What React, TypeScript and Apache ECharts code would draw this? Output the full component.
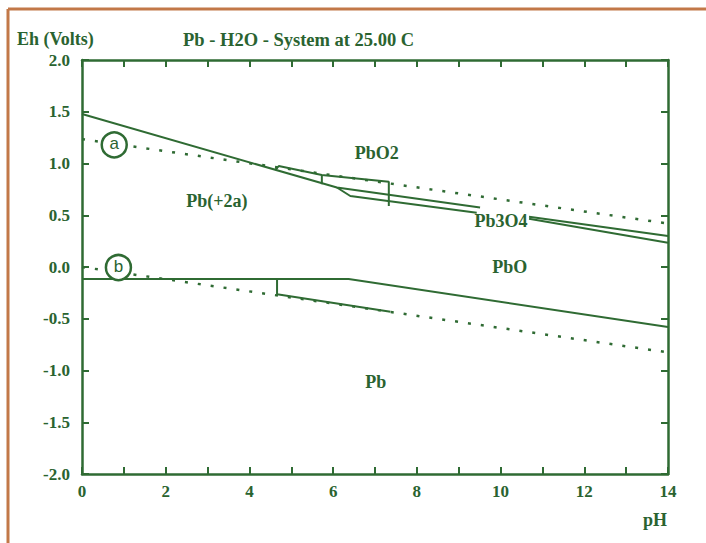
import React, { useEffect, useRef } from "react";
import * as echarts from "echarts";

const GREEN = "#2f6b33";
const TEXT = "#2a6330";
const FONT = "'Liberation Serif', 'Times New Roman', serif";

// Axis ticks
const phTicks = [0, 14];
const ehTicks = [-2, 2];

// Boundary lines [pH, Eh]
const pbo2Upper = [[0, 1.478], [6.09, 0.768], [9.51, 0.574]];
const pb3o4Lower = [[6.09, 0.768], [6.41, 0.686], [9.43, 0.525]];
const rightUpper = [[10.68, 0.486], [14, 0.30]];
const rightLower = [[10.68, 0.467], [14, 0.235]];
const boxTop = [[4.62, 0.94], [4.70, 0.975], [5.73, 0.889], [7.33, 0.824], [7.33, 0.59]];
const boxMid = [[5.73, 0.889], [5.73, 0.80]];
const pbLine = [[0, -0.115], [6.37, -0.115], [14, -0.58]];
const pbStep = [[4.66, -0.115], [4.66, -0.264], [7.37, -0.432]];
// Water stability lines (dotted)
const waterA = [[0, 1.235], [14, 0.42]];
const waterB = [[0, 0.0], [14, -0.825]];
// Circle markers
const circles = [[0.77, 1.18, "a"], [0.87, -0.005, "b"]];
// Region labels
const regions = [
  [7.04, 1.104, "PbO2"],
  [3.22, 0.638, "Pb(+2a)"],
  [10.01, 0.444, "Pb3O4"],
  [10.22, 0.0, "PbO"],
  [7.02, -1.11, "Pb"],
];

function solid(data: number[][]) {
  return {
    type: "line",
    data,
    showSymbol: false,
    symbol: "none",
    lineStyle: { color: GREEN, width: 2 },
    z: 3,
  };
}

function dotted(data: number[][]) {
  return {
    type: "line",
    data,
    showSymbol: false,
    symbol: "none",
    lineStyle: { color: GREEN, width: 2.5, type: [3, 10], cap: "butt" },
    z: 2,
  };
}

export default function App() {
  const ref = useRef<HTMLDivElement>(null);
  useEffect(() => {
    if (!ref.current) return;
    const chart = echarts.init(ref.current, undefined, { renderer: "svg" });
    const axisCommon = {
      axisLine: { show: true, onZero: false, lineStyle: { color: GREEN, width: 2.5 } },
      axisTick: { show: true, inside: true, length: 7, lineStyle: { color: GREEN, width: 2 } },
      splitLine: { show: false },
    };
    chart.setOption({
      animation: false,
      backgroundColor: "#ffffff",
      grid: { left: 82, top: 60, width: 586, height: 414, containLabel: false },
      xAxis: [
        {
          type: "value",
          min: phTicks[0],
          max: phTicks[1],
          interval: 1,
          position: "bottom",
          ...axisCommon,
          axisLabel: {
            margin: 9,
            color: TEXT,
            fontFamily: FONT,
            fontWeight: "bold",
            fontSize: 17,
            formatter: (v: number) => (v % 2 === 0 ? String(v) : ""),
          },
        },
        {
          type: "value",
          min: phTicks[0],
          max: phTicks[1],
          interval: 1,
          position: "top",
          ...axisCommon,
          axisLabel: { show: false },
        },
      ],
      yAxis: [
        {
          type: "value",
          min: ehTicks[0],
          max: ehTicks[1],
          interval: 0.5,
          position: "left",
          ...axisCommon,
          axisLabel: {
            margin: 12,
            color: TEXT,
            fontFamily: FONT,
            fontWeight: "bold",
            fontSize: 17,
            formatter: (v: number) => v.toFixed(1),
          },
        },
        {
          type: "value",
          min: ehTicks[0],
          max: ehTicks[1],
          interval: 0.5,
          position: "right",
          ...axisCommon,
          axisLabel: { show: false },
        },
      ],
      series: [
        dotted(waterA),
        dotted(waterB),
        solid(pbo2Upper),
        solid(pb3o4Lower),
        solid(rightUpper),
        solid(rightLower),
        solid(boxTop),
        solid(boxMid),
        solid(pbLine),
        solid(pbStep),
        {
          type: "scatter",
          data: circles,
          symbol: "circle",
          symbolSize: 25,
          itemStyle: { color: "#ffffff", borderColor: GREEN, borderWidth: 2.5, opacity: 1 },
          label: {
            show: true,
            position: "inside",
            formatter: (p: any) => p.data[2],
            color: TEXT,
            fontFamily: "'Liberation Sans', Arial, sans-serif",
            fontSize: 17,
            offset: [0, -1],
          },
          z: 5,
        },
        {
          type: "scatter",
          data: regions,
          symbol: "circle",
          symbolSize: 0.5,
          itemStyle: { color: "#ffffff", opacity: 1 },
          label: {
            show: true,
            position: "inside",
            formatter: (p: any) => p.data[2],
            color: TEXT,
            opacity: 1,
            textBorderWidth: 0,
            fontFamily: FONT,
            fontWeight: "bold",
            fontSize: 18,
          },
          z: 6,
        },
      ],
      graphic: [
        { type: "line", shape: { x1: 8, y1: 9, x2: 706, y2: 9 }, style: { stroke: "#c27848", lineWidth: 3 } },
        { type: "line", shape: { x1: 8, y1: 9, x2: 8, y2: 543 }, style: { stroke: "#c27848", lineWidth: 3 } },
        {
          type: "text",
          left: 17,
          top: 30,
          style: { text: "Eh (Volts)", fill: TEXT, font: `bold 18px ${FONT}` },
        },
        {
          type: "text",
          left: 183,
          top: 30,
          style: { text: "Pb - H2O - System at 25.00 C", fill: TEXT, font: `bold 18.5px ${FONT}` },
        },
        {
          type: "text",
          left: 643,
          top: 511,
          style: { text: "pH", fill: TEXT, font: `bold 18px ${FONT}` },
        },
      ],
    });
    return () => chart.dispose();
  }, []);
  return (
    <div
      ref={ref}
      style={{ position: "fixed", left: 0, top: 0, width: 706, height: 543 }}
    />
  );
}
